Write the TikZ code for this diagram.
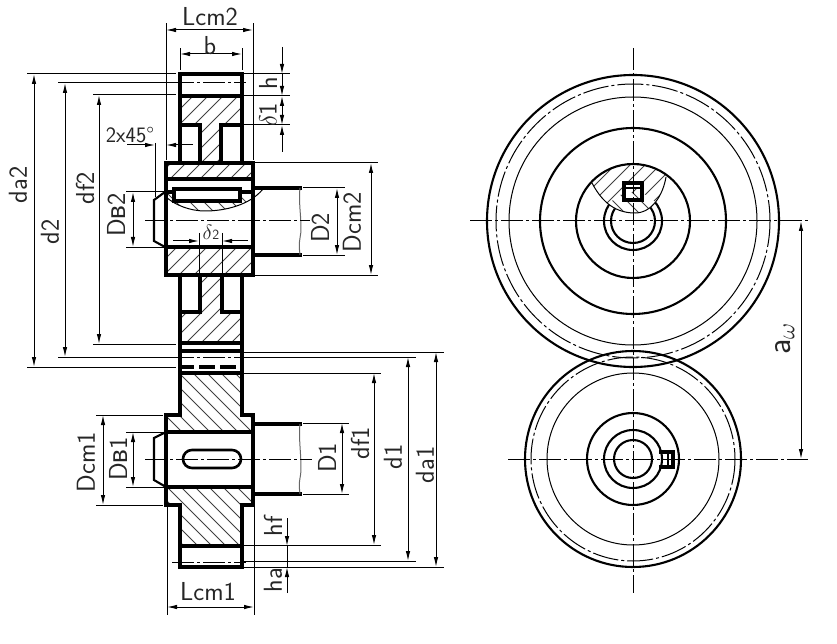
\documentclass[tikz,border=0pt]{standalone}
\usepackage{fontspec}
\usetikzlibrary{arrows.meta}
\newfontfamily\cyrfont{Liberation Sans}

\def\cx{633}
\def\cyu{221}
\def\cyl{459}
\def\brkpath{(592,183) .. controls (600,198) and (612,213) .. (635,213) .. controls (652,213) and (663,195) .. (666,177) -- (666,150) -- (592,150) -- cycle}
\def\shaftbrk{(166,192) -- (174,192) -- (174,201) -- (240,201) -- (240,192) -- (263,189) .. controls (250,205) and (225,211) .. (205,211) .. controls (190,211) and (175,205) .. (166,197) -- cycle}
\def\hatchup{\foreach \i in {94,109,...,800} \draw[hatch] (\i,0) -- ({\i-644},644);}
\def\hatchdn{\foreach \i in {-600,-586,...,700} \draw[hatch] (\i,0) -- ({\i+644},644);}

\tikzset{
  thickl/.style={line width=3.1pt,line cap=rect},
  midl/.style={line width=2.1pt},
  thinl/.style={line width=1pt},
  hatch/.style={line width=0.8pt,color=black!75},
  axisl/.style={line width=1pt,dash pattern=on 22pt off 3pt on 3pt off 3pt},
  dim/.style={line width=1pt,>={Latex[length=10pt,width=4.5pt]}},
  lbl/.style={inner sep=0pt,text=black!85,font=\sffamily\fontsize{26}{26}\selectfont},
  lblsmall/.style={lbl,font=\sffamily\fontsize{22}{22}\selectfont},
}

\begin{document}
\begin{tikzpicture}[x=1pt,y=-1pt]
\useasboundingbox (0,0) rectangle (837,644);

% hatching of the two gears
\begin{scope}
\clip (180,96)--(242,96)--(242,125)--(221,125)--(221,163)--(253,163)--(253,179)--(166,179)--(166,163)--(200,163)--(200,125)--(180,125)--cycle
      (166,247)--(253,247)--(253,275)--(222,275)--(222,312)--(242,312)--(242,343)--(180,343)--(180,312)--(200,312)--(200,275)--(166,275)--cycle;
\hatchup
\end{scope}
\begin{scope}
\clip (180,373)--(242,373)--(242,415)--(253,415)--(253,432)--(166,432)--(166,415)--(180,415)--cycle
      (166,487)--(253,487)--(253,505)--(242,505)--(242,546)--(180,546)--(180,505)--(166,505)--cycle;
\hatchdn
\end{scope}
\begin{scope}
\clip \shaftbrk;
\hatchdn
\end{scope}
\draw[thinl] (263,189) .. controls (250,205) and (225,211) .. (205,211) .. controls (190,211) and (175,205) .. (166,197);

% big gear, section
\draw[thickl] (180,74) rectangle (242,96);
\draw[thickl] (180,96)--(180,163) (242,96)--(242,163);
\draw[thickl] (180,125)--(200,125)--(200,163) (242,125)--(221,125)--(221,163);
\draw[thickl] (166,163) rectangle (253,275);
\draw[thickl] (166,179)--(253,179) (166,247)--(253,247);
\draw[thickl] (180,275)--(180,351) (242,275)--(242,351);
\draw[thickl] (200,275)--(200,312)--(180,312) (222,275)--(222,312)--(242,312);
\draw[thickl] (180,343)--(242,343);
\draw[thickl] (174,189) rectangle (240,201);
\draw[thickl] (166,192)--(174,192) (240,192)--(253,192);
\draw[thickl] (253,188)--(300,188) (253,255)--(300,255);
\draw[midl] (165,192)--(154,200)--(154,241)--(165,247);
\draw[thinl,color=black!60] (300,188) .. controls (298,205) and (303,225) .. (300,238) .. controls (299,245) .. (300,255);

% small gear, section
\draw[thickl] (180,351)--(242,351);
\draw[thickl,dash pattern=on 12pt off 9pt] (180,367)--(242,367);
\draw[thickl] (180,351)--(180,415)--(166,415)--(166,505)--(180,505)--(180,567)--(242,567)--(242,505)--(253,505)--(253,415)--(242,415)--(242,351);
\draw[thickl] (180,373)--(242,373) (166,432)--(253,432) (166,487)--(253,487) (180,546)--(242,546);
\draw[thickl] (253,424)--(300,424) (253,494)--(300,494);
\draw[midl,line width=2.6pt,rounded corners=9pt] (183,450) rectangle (241,468);
\draw[midl] (166,432)--(154,438)--(154,480)--(166,487);
\draw[thinl,color=black!60] (300,424) .. controls (298,440) and (303,465) .. (300,478) .. controls (299,485) .. (300,494);

% axes
\draw[axisl] (145,221)--(310,221);
\draw[axisl] (145,459)--(312,459);
\draw[axisl] (172,83)--(246,83);
\draw[axisl] (172,357)--(246,357);
\draw[axisl] (172,562)--(246,562);

% extension lines
\draw[thinl] (166,160)--(166,23) (253,160)--(253,23);
\draw[thinl] (180,70)--(180,48) (242,70)--(242,48);
\foreach \y in {74,96,125} \draw[thinl] (244,\y)--(290,\y);
\draw[thinl] (27,74)--(176,74) (58,83)--(176,83) (93,95)--(176,95);
\draw[thinl] (93,344)--(176,344) (58,357)--(176,357) (27,367)--(176,367);
\draw[thinl] (126,192)--(165,192) (126,247)--(165,247);
\draw[thinl] (96,415)--(163,415) (96,505)--(163,505);
\draw[thinl] (126,432)--(164,432) (126,487)--(164,487);
\draw[thinl] (255,163)--(378,163) (255,275)--(378,275);
\draw[thinl] (303,188)--(345,188) (303,255)--(345,255);
\draw[thinl] (244,352)--(444,352) (244,357)--(416,357) (244,373)--(381,373);
\draw[thinl] (303,423)--(349,423) (303,494)--(349,494);
\draw[thinl] (244,545)--(381,545) (244,561)--(416,561) (244,567)--(444,567);
\draw[thinl] (167,507)--(167,615) (254,507)--(254,615);
\draw[thinl] (199,233)--(199,275) (222,233)--(222,275);

% dimension lines
\draw[dim,<->] (166,30)--(253,30);
\draw[dim,<->] (180,54)--(242,54);
\draw[dim,->] (282,47)--(282,74);
\draw[dim,->] (282,74)--(282,96);
\draw[dim,<->] (282,96)--(282,125);
\draw[dim,->] (282,152)--(282,125);
\draw[dim,<->] (34,74)--(34,367);
\draw[dim,<->] (65,83)--(65,357);
\draw[dim,<->] (99,95)--(99,344);
\draw[dim,<->] (133,192)--(133,247);
\draw[dim,<->] (133,432)--(133,487);
\draw[dim,<->] (103,415)--(103,505);
\draw[dim,<->] (337,188)--(337,255);
\draw[dim,<->] (371,163)--(371,275);
\draw[dim,<->] (342,423)--(342,494);
\draw[dim,<->] (374,373)--(374,545);
\draw[dim,<->] (408,357)--(408,561);
\draw[dim,<->] (436,352)--(436,567);
\draw[dim,<->] (167,607)--(254,607);
\draw[dim,->] (287,518)--(287,546);
\draw[dim] (287,546)--(287,567);
\draw[dim,->] (287,593)--(287,567);
\draw[dim,->] (173,241)--(199,241);
\draw[dim,->] (248,241)--(222,241);
\draw[dim,->] (127,145)--(155,145);
\draw[dim,->] (193,145)--(166,145);
\draw[dim] (155,143)--(155,197);

% labels
\node[lbl] (lcm2) at (210,17) {Lcm2};
\node[lbl] (lb) at (210,46) {b};
\node[lbl,rotate=90] (lh) at (268,83) {h};
\node[lbl,rotate=90] (ldelta1) at (268,115) {$\delta$1};
\node[lbl,rotate=90] (lda2) at (18,185) {da2};
\node[lbl,rotate=90] (ld2) at (50,232) {d2};
\node[lbl,rotate=90] (ldf2) at (85,188) {df2};
\node[lbl,rotate=90] (ldb2) at (116,215) {D{\cyrfont в}2};
\node[lblsmall] (lchamfer) at (130,135) {2x45\textdegree};
\node[lblsmall] (ldelta2) at (211,232) {$\delta$\fontsize{14}{14}\selectfont 2};
\node[lbl,rotate=90] (ld2s) at (320,228) {D2};
\node[lbl,rotate=90] (ldcm2) at (352,222) {Dcm2};
\node[lbl,rotate=90] (ldcm1) at (86,462) {Dcm1};
\node[lbl,rotate=90] (ldb1) at (118,459) {D{\cyrfont в}1};
\node[lbl,rotate=90] (ld1s) at (327,458) {D1};
\node[lbl,rotate=90] (ldf1) at (360,443) {df1};
\node[lbl,rotate=90] (ld1) at (393,457) {d1};
\node[lbl,rotate=90] (lda1) at (425,465) {da1};
\node[lbl,rotate=90] (lhf) at (273,526) {hf};
\node[lbl,rotate=90] (lha) at (273,580) {ha};
\node[lbl] (lcm1) at (208,592) {Lcm1};
\node[lbl,rotate=90] (law) at (785,339) {\fontsize{34}{34}\selectfont a$_\omega$};

% end view, big gear
\draw[midl] (\cx,\cyu) circle[radius=146];
\draw[thinl,dash pattern=on 26pt off 3pt on 3pt off 3pt] (\cx,\cyu) circle[radius=137];
\draw[thinl] (\cx,\cyu) circle[radius=124];
\draw[midl] (\cx,\cyu) circle[radius=93];
\draw[midl] (\cx,\cyu) circle[radius=29];
\draw[midl] (\cx,\cyu) circle[radius=22];
\begin{scope}
\clip (\cx,\cyu) circle[radius=57];
\clip \brkpath;
\fill[white] (560,140) rectangle (700,230);
\foreach \i in {750,765,...,900} \draw[hatch] (\i,0) -- ({\i-644},644);
\clip (\cx,\cyu) circle[radius=29];
\fill[white] (560,140) rectangle (700,230);
\foreach \i in {370,384,...,480} \draw[hatch] (\i,0) -- ({\i+644},644);
\end{scope}
\draw[thinl] (592,183) .. controls (600,198) and (612,213) .. (635,213) .. controls (652,213) and (663,195) .. (666,177);
\draw[midl] (\cx,\cyu) circle[radius=57];
\fill[white] (624,183) rectangle (642,189);
\draw[thickl] (624,183) rectangle (642,200);
\draw[midl] (624,188)--(642,188);

% end view, small gear
\draw[midl] (\cx,\cyl) circle[radius=108];
\draw[thinl,dash pattern=on 26pt off 3pt on 3pt off 3pt] (\cx,\cyl) circle[radius=102];
\draw[thinl] (\cx,\cyl) circle[radius=86];
\draw[midl] (\cx,\cyl) circle[radius=46];
\draw[midl] (\cx,\cyl) circle[radius=29];
\draw[midl] (\cx,\cyl) circle[radius=19];
\draw[thickl] (661,452)--(673,452)--(673,467)--(661,467);
\draw[midl] (668,452)--(668,467);

% end view axes
\draw[axisl] (470,\cyu)--(808,\cyu);
\draw[axisl] (508,\cyl)--(808,\cyl);
\draw[axisl] (\cx,48)--(\cx,593);
\draw[dim,<->] (801,\cyu)--(801,\cyl);

\end{tikzpicture}
\end{document}
